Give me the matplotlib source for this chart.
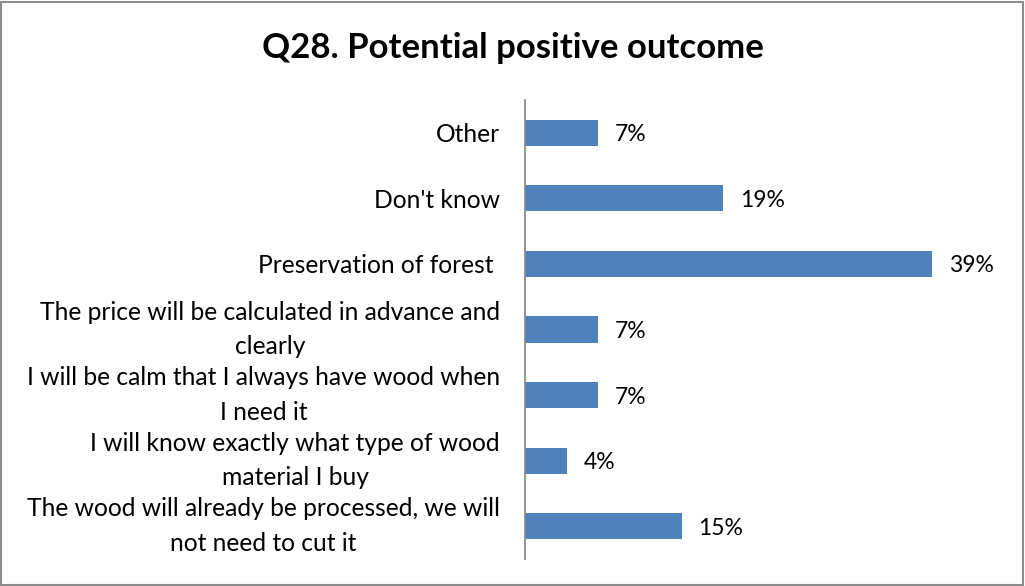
import matplotlib.pyplot as plt
from matplotlib.patches import Rectangle

plt.rcParams['font.family'] = ['Lato', 'DejaVu Sans']

# categories from top to bottom
categories = [
    "Other",
    "Don't know",
    "Preservation of forest ",
    "The price will be calculated in advance and\nclearly",
    "I will be calm that I always have wood when\nI need it",
    "I will know exactly what type of wood\nmaterial I buy",
    "The wood will already be processed, we will\nnot need to cut it",
]
values = [7, 19, 39, 7, 7, 4, 15]
value_labels = ["7%", "19%", "39%", "7%", "7%", "4%", "15%"]

fig = plt.figure(figsize=(10.25, 5.86), dpi=100)
ax = fig.add_axes([0.5122, 0.0461, 0.4585, 0.7833])

ypos = list(range(len(categories)))
ax.barh(ypos, values, height=0.4, color='#4F81BD')
ax.set_ylim(len(categories) - 0.5, -0.5)
ax.set_xlim(0, 45)

for y, v, lab in zip(ypos, values, value_labels):
    ax.text(v + 1.6, y, lab, va='center_baseline', ha='left', fontsize=16.5, color='black')

# category labels: right edge near the axis, lines centred on each other
ytrans = ax.get_yaxis_transform()
for y, cat in zip(ypos, categories):
    va = 'center' if '\n' in cat else 'center_baseline'
    ax.text(-0.053, y, cat, transform=ytrans, fontsize=17.7, linespacing=1.6,
            ha='right', va=va, multialignment='center')

ax.set_yticks([])
ax.set_xticks([])

for side in ['top', 'right', 'bottom']:
    ax.spines[side].set_visible(False)
ax.spines['left'].set_color('#8c8c8c')
ax.spines['left'].set_linewidth(1.3)

fig.text(0.5, 0.918, "Q28. Potential positive outcome", ha='center', va='center',
         fontsize=25, fontweight='bold')

# outer border of the chart area
fig.patches.append(Rectangle((0.001, 0.002), 0.997, 0.995, transform=fig.transFigure,
                             fill=False, edgecolor='#8c8c8c', linewidth=1.5))

fig.savefig('out.png', dpi=100)
